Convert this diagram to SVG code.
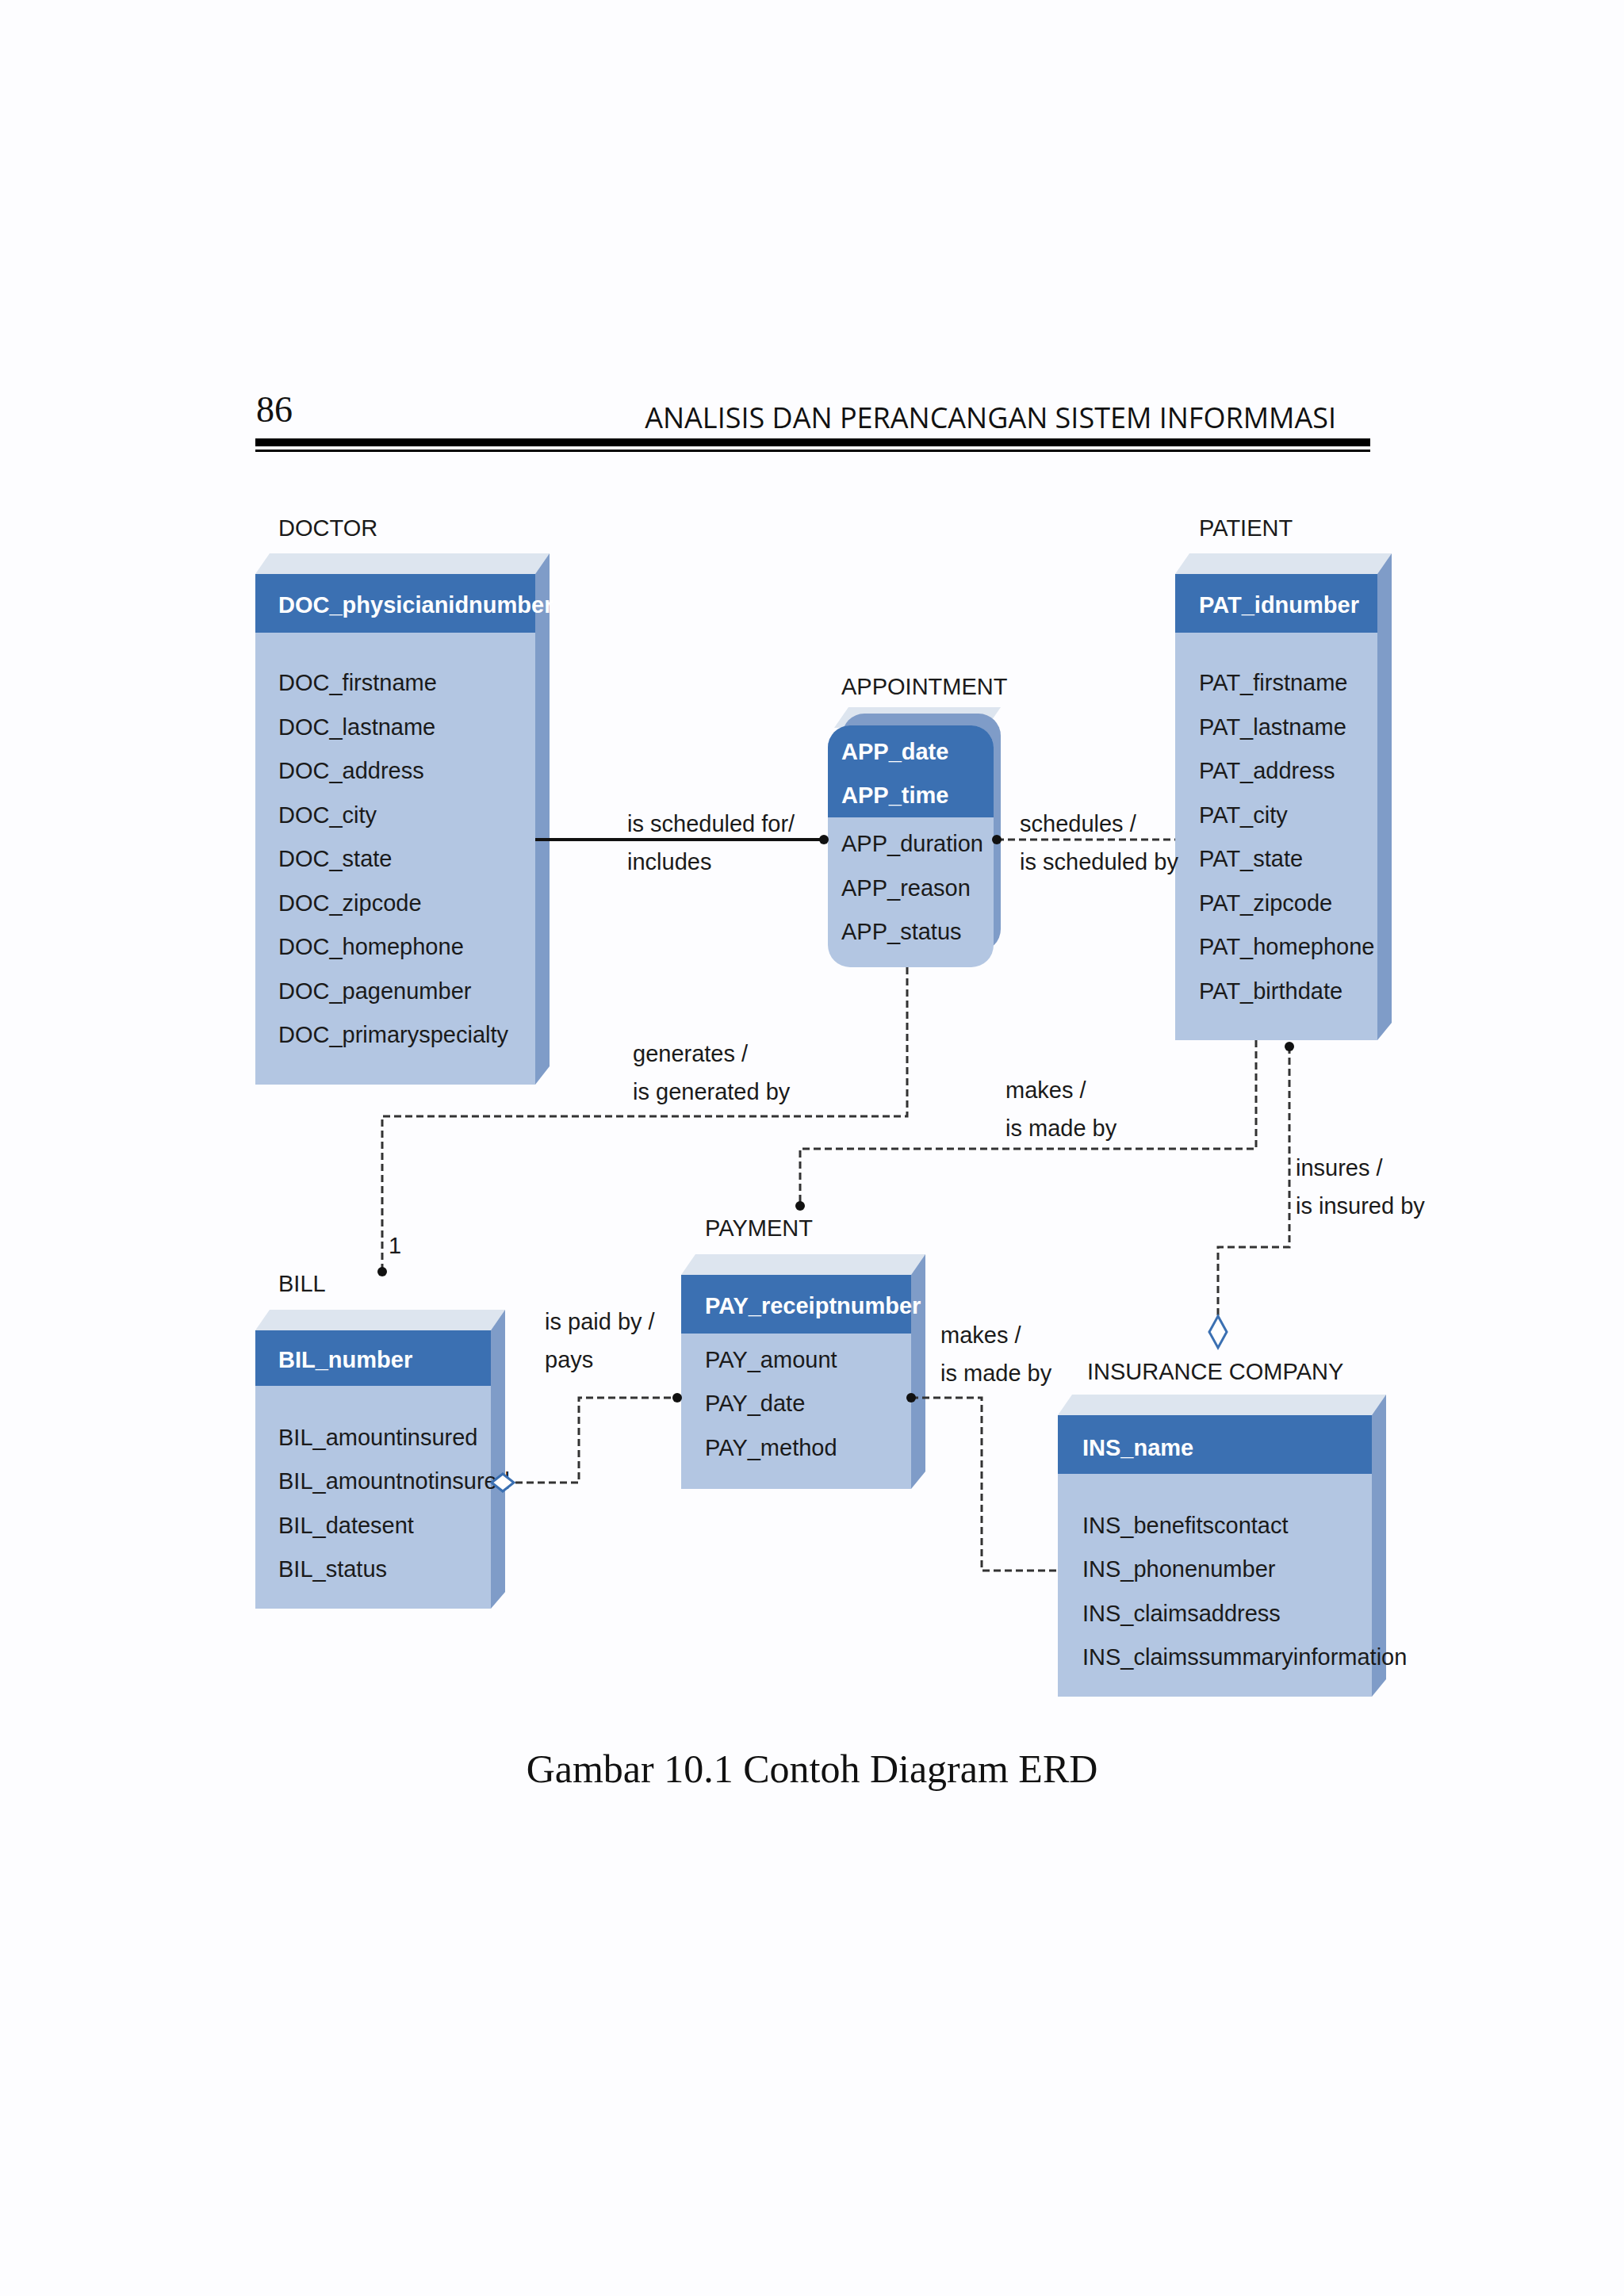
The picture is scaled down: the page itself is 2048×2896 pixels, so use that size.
<svg xmlns="http://www.w3.org/2000/svg" width="2048" height="2896" viewBox="0 0 2048 2896">
<style>
.t{font-family:"Liberation Sans",Arial,sans-serif;font-size:29px;fill:#1a1a1a}
.h{font-family:"Liberation Sans",Arial,sans-serif;font-size:29px;fill:#fff;font-weight:bold}
.body{fill:#b3c6e2}
.head{fill:#3b70b2}
.top{fill:#dde5ef}
.side{fill:#7f9cc8}
.c{stroke:#333;stroke-width:3;fill:none;stroke-dasharray:9,5}
</style>
<rect width="2048" height="2896" fill="#fdfdff"/>
<text x="323" y="532" font-family="Liberation Serif,serif" font-size="46" fill="#111">86</text>
<text x="1685" y="540" text-anchor="end" font-family="Open Sans,sans-serif" font-size="36" fill="#111">ANALISIS DAN PERANCANGAN SISTEM INFORMMASI</text>
<rect x="322" y="553" width="1406" height="10" fill="#000"/>
<rect x="322" y="567" width="1406" height="3" fill="#000"/>

<g id="doctor">
<polygon class="top" points="322,724 340,698 693,698 675,724"/>
<polygon class="side" points="675,724 693,698 693,1345 675,1368"/>
<rect class="body" x="322" y="724" width="353" height="644"/>
<rect class="head" x="322" y="724" width="353" height="74"/>
<text class="t" x="351" y="676">DOCTOR</text>
<text class="h" x="351" y="773">DOC_physicianidnumber</text>
<text class="t" x="351" y="871">DOC_firstname</text>
<text class="t" x="351" y="927">DOC_lastname</text>
<text class="t" x="351" y="982">DOC_address</text>
<text class="t" x="351" y="1038">DOC_city</text>
<text class="t" x="351" y="1093">DOC_state</text>
<text class="t" x="351" y="1149">DOC_zipcode</text>
<text class="t" x="351" y="1204">DOC_homephone</text>
<text class="t" x="351" y="1260">DOC_pagenumber</text>
<text class="t" x="351" y="1315">DOC_primaryspecialty</text>
</g>

<g id="patient">
<polygon class="top" points="1482,724 1500,698 1755,698 1737,724"/>
<polygon class="side" points="1737,724 1755,698 1755,1290 1737,1312"/>
<rect class="body" x="1482" y="724" width="255" height="588"/>
<rect class="head" x="1482" y="724" width="255" height="74"/>
<text class="t" x="1512" y="676">PATIENT</text>
<text class="h" x="1512" y="773">PAT_idnumber</text>
<text class="t" x="1512" y="871">PAT_firstname</text>
<text class="t" x="1512" y="927">PAT_lastname</text>
<text class="t" x="1512" y="982">PAT_address</text>
<text class="t" x="1512" y="1038">PAT_city</text>
<text class="t" x="1512" y="1093">PAT_state</text>
<text class="t" x="1512" y="1149">PAT_zipcode</text>
<text class="t" x="1512" y="1204">PAT_homephone</text>
<text class="t" x="1512" y="1260">PAT_birthdate</text>
</g>

<g id="appointment">
<polygon class="top" points="1052,918 1070,892 1262,892 1244,918"/>
<rect class="side" x="1062" y="900" width="200" height="300" rx="28"/>
<rect class="body" x="1044" y="915" width="209" height="305" rx="28"/>
<path class="head" d="M1072,915 H1225 A28,28 0 0 1 1253,943 V1031 H1044 V943 A28,28 0 0 1 1072,915 Z"/>
<text class="t" x="1061" y="876">APPOINTMENT</text>
<text class="h" x="1061" y="958">APP_date</text>
<text class="h" x="1061" y="1013">APP_time</text>
<text class="t" x="1061" y="1074">APP_duration</text>
<text class="t" x="1061" y="1130">APP_reason</text>
<text class="t" x="1061" y="1185">APP_status</text>
</g>

<g id="bill">
<polygon class="top" points="322,1678 340,1652 637,1652 619,1678"/>
<polygon class="side" points="619,1678 637,1652 637,2008 619,2029"/>
<rect class="body" x="322" y="1678" width="297" height="351"/>
<rect class="head" x="322" y="1678" width="297" height="70"/>
<text class="t" x="351" y="1629">BILL</text>
<text class="h" x="351" y="1725">BIL_number</text>
<text class="t" x="351" y="1823">BIL_amountinsured</text>
<text class="t" x="351" y="1878">BIL_amountnotinsured</text>
<text class="t" x="351" y="1934">BIL_datesent</text>
<text class="t" x="351" y="1989">BIL_status</text>
</g>

<g id="payment">
<polygon class="top" points="859,1608 877,1582 1167,1582 1149,1608"/>
<polygon class="side" points="1149,1608 1167,1582 1167,1856 1149,1878"/>
<rect class="body" x="859" y="1608" width="290" height="270"/>
<rect class="head" x="859" y="1608" width="290" height="74"/>
<text class="t" x="889" y="1559">PAYMENT</text>
<text class="h" x="889" y="1657">PAY_receiptnumber</text>
<text class="t" x="889" y="1725">PAY_amount</text>
<text class="t" x="889" y="1780">PAY_date</text>
<text class="t" x="889" y="1836">PAY_method</text>
</g>

<g id="insurance">
<polygon class="top" points="1334,1785 1352,1759 1748,1759 1730,1785"/>
<polygon class="side" points="1730,1785 1748,1759 1748,2118 1730,2140"/>
<rect class="body" x="1334" y="1785" width="396" height="355"/>
<rect class="head" x="1334" y="1785" width="396" height="74"/>
<text class="t" x="1371" y="1740">INSURANCE COMPANY</text>
<text class="h" x="1365" y="1836">INS_name</text>
<text class="t" x="1365" y="1934">INS_benefitscontact</text>
<text class="t" x="1365" y="1989">INS_phonenumber</text>
<text class="t" x="1365" y="2045">INS_claimsaddress</text>
<text class="t" x="1365" y="2100">INS_claimssummaryinformation</text>
</g>

<g id="connectors">
<line x1="675" y1="1059" x2="1039" y2="1059" stroke="#111" stroke-width="4"/>
<circle cx="1039" cy="1059" r="6" fill="#111"/>
<path class="c" d="M1257,1059 H1482"/>
<circle cx="1257" cy="1059" r="6" fill="#111"/>
<path class="c" d="M1144,1220 V1408 H482 V1604"/>
<circle cx="482" cy="1604" r="6" fill="#111"/>
<path class="c" d="M1584,1312 V1449 H1009 V1521"/>
<circle cx="1009" cy="1521" r="6" fill="#111"/>
<path class="c" d="M1626,1320 V1573 H1536 V1660"/>
<circle cx="1626" cy="1320" r="6" fill="#111"/>
<polygon points="1536,1660 1547,1680 1536,1700 1525,1680" fill="#fff" stroke="#3b70b2" stroke-width="3"/>
<path class="c" d="M650,1870 H730 V1763 H854"/>
<circle cx="854" cy="1763" r="6" fill="#111"/>
<polygon points="620,1870 634,1859 648,1870 634,1881" fill="#fff" stroke="#3b70b2" stroke-width="3"/>
<path class="c" d="M1149,1763 H1238 V1981 H1334"/>
<circle cx="1149" cy="1763" r="6" fill="#111"/>
<text class="t" x="791" y="1049">is scheduled for/</text>
<text class="t" x="791" y="1097">includes</text>
<text class="t" x="1286" y="1049">schedules /</text>
<text class="t" x="1286" y="1097">is scheduled by</text>
<text class="t" x="798" y="1339">generates /</text>
<text class="t" x="798" y="1387">is generated by</text>
<text class="t" x="1268" y="1385">makes /</text>
<text class="t" x="1268" y="1433">is made by</text>
<text class="t" x="1634" y="1483">insures /</text>
<text class="t" x="1634" y="1531">is insured by</text>
<text class="t" x="490" y="1581">1</text>
<text class="t" x="687" y="1677">is paid by /</text>
<text class="t" x="687" y="1725">pays</text>
<text class="t" x="1186" y="1694">makes /</text>
<text class="t" x="1186" y="1742">is made by</text>
</g>
<text x="1024" y="2248" text-anchor="middle" font-family="Liberation Serif,serif" font-size="50" fill="#111">Gambar 10.1 Contoh Diagram ERD</text>
</svg>
